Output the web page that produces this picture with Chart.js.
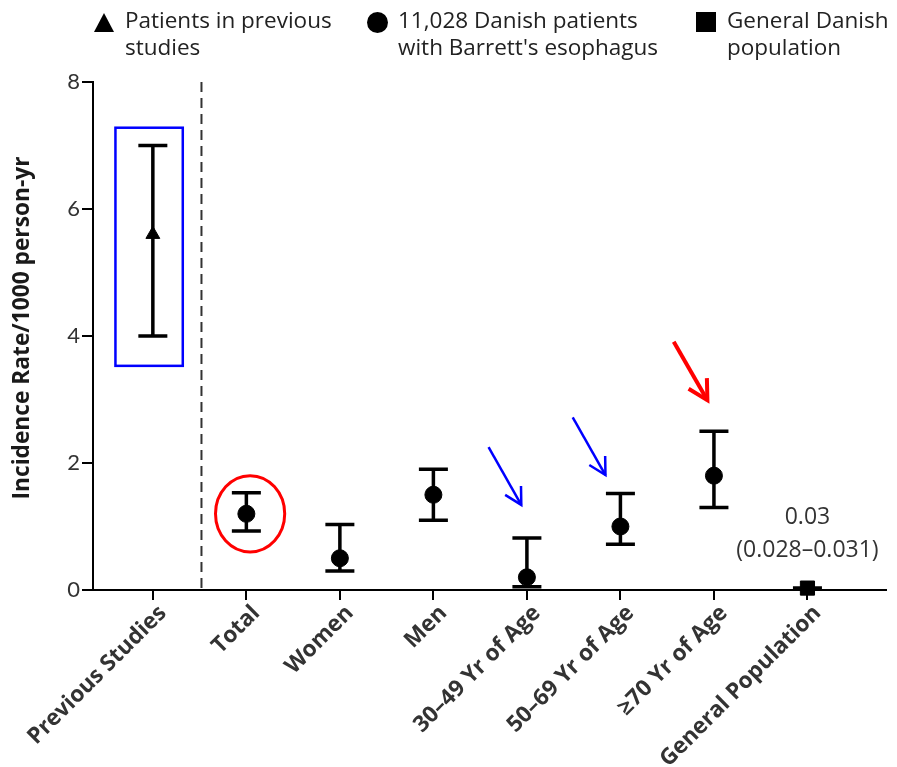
<!DOCTYPE html>
<html><head><meta charset="utf-8">
<script src="https://cdn.jsdelivr.net/npm/chart.js@4.4.0/dist/chart.umd.min.js"></script>
<style>
html,body{margin:0;padding:0;background:#fff;}
#wrap{position:relative;width:897px;height:767px;overflow:hidden;}
#c{position:absolute;left:0;top:0;}
.leg{position:absolute;top:6px;font-family:'Open Sans',sans-serif;font-size:22.5px;line-height:27px;color:#222;white-space:nowrap;}
.tri{position:absolute;left:94px;top:13px;width:0;height:0;border-left:10.5px solid transparent;border-right:10.5px solid transparent;border-bottom:19px solid #000;}
.dot{position:absolute;left:367px;top:12px;width:21px;height:21px;border-radius:50%;background:#000;}
.sq{position:absolute;left:696px;top:12px;width:20px;height:20px;background:#000;}
</style></head><body>
<div id="wrap">
<canvas id="c" width="897" height="767"></canvas>
<div class="tri"></div><div class="leg" style="left:125px">Patients in previous<br>studies</div>
<div class="dot"></div><div class="leg" style="left:398px">11,028 Danish patients<br>with Barrett's esophagus</div>
<div class="sq"></div><div class="leg" style="left:727px">General Danish<br>population</div>
</div>
<script>
// ---- data ----
const categories = ['Previous Studies','Total','Women','Men','30\u201349 Yr of Age','50\u201369 Yr of Age','\u226570 Yr of Age','General Population'];
const rates   = [5.6, 1.2, 0.5, 1.5, 0.2, 1.0, 1.8, 0.03];
const lowerCI = [4.0, 0.93, 0.3, 1.1, 0.05, 0.72, 1.3, 0.028];
const upperCI = [7.0, 1.53, 1.03, 1.9, 0.82, 1.52, 2.5, 0.031];
const yTicks  = [0, 2, 4, 6, 8];
const previousIdx = [0];
const danishIdx   = [1, 2, 3, 4, 5, 6];
const generalIdx  = [7];
const generalLabel = ['0.03', '(0.028\u20130.031)'];
const yTitle = 'Incidence Rate/1000 person-yr';

const pts = idx => idx.map(i => ({x: i, y: rates[i]}));
const FONT = "'Open Sans', sans-serif";

const errorBars = {
  id: 'errorBars',
  beforeDatasetsDraw(chart) {
    const {ctx, scales: {x, y}} = chart;
    ctx.save();
    ctx.strokeStyle = '#000';
    ctx.lineWidth = 3.5;
    ctx.lineCap = 'butt';
    categories.forEach((c, i) => {
      const px = x.getPixelForValue(i);
      const pl = y.getPixelForValue(lowerCI[i]);
      const pu = y.getPixelForValue(upperCI[i]);
      ctx.beginPath();
      ctx.moveTo(px, pl); ctx.lineTo(px, pu);
      ctx.moveTo(px - 14.5, pl); ctx.lineTo(px + 14.5, pl);
      ctx.moveTo(px - 14.5, pu); ctx.lineTo(px + 14.5, pu);
      ctx.stroke();
    });
    // dashed separator between previous studies and this study
    const dx = x.getPixelForValue(0.52);
    ctx.strokeStyle = '#333';
    ctx.lineWidth = 2;
    ctx.setLineDash([10, 6]);
    ctx.beginPath();
    ctx.moveTo(dx, chart.chartArea.top);
    ctx.lineTo(dx, chart.chartArea.bottom);
    ctx.stroke();
    ctx.restore();
  }
};

function arrow(ctx, x0, y0, x1, y1, color, w, head) {
  ctx.save();
  ctx.strokeStyle = color; ctx.lineWidth = w; ctx.lineCap = 'butt';
  ctx.beginPath(); ctx.moveTo(x0, y0); ctx.lineTo(x1, y1); ctx.stroke();
  const a = Math.atan2(y1 - y0, x1 - x0);
  ctx.beginPath();
  ctx.moveTo(x1 - head * Math.cos(a - 0.5), y1 - head * Math.sin(a - 0.5));
  ctx.lineTo(x1, y1);
  ctx.lineTo(x1 - head * Math.cos(a + 0.5), y1 - head * Math.sin(a + 0.5));
  ctx.stroke();
  ctx.restore();
}

const annotations = {
  id: 'annotations',
  afterDraw(chart) {
    const {ctx, scales: {x, y}} = chart;
    ctx.save();
    // y-axis title, sized to span the same length as the original
    ctx.save();
    ctx.font = 'bold 20px ' + FONT;
    const size = Math.min(24, 20 * 343 / ctx.measureText(yTitle).width);
    ctx.font = 'bold ' + size.toFixed(2) + 'px ' + FONT;
    ctx.translate(23, (chart.chartArea.top + chart.chartArea.bottom) / 2 - 8);
    ctx.rotate(-Math.PI / 2);
    ctx.fillStyle = '#1a1a1a';
    ctx.textAlign = 'center'; ctx.textBaseline = 'middle';
    ctx.fillText(yTitle, 0, 0);
    ctx.restore();
    // blue box around previous studies
    ctx.strokeStyle = '#0000ff'; ctx.lineWidth = 2.5;
    const bx0 = x.getPixelForValue(-0.40), bx1 = x.getPixelForValue(0.32);
    const by0 = y.getPixelForValue(7.28), by1 = y.getPixelForValue(3.53);
    ctx.strokeRect(bx0, by0, bx1 - bx0, by1 - by0);
    // red ellipse around total
    ctx.strokeStyle = '#ff0000'; ctx.lineWidth = 3;
    const ex = x.getPixelForValue(1.04), ey = y.getPixelForValue(1.2);
    const rx = x.getPixelForValue(1.41) - ex, ry = ey - y.getPixelForValue(1.8);
    ctx.beginPath(); ctx.ellipse(ex, ey, rx, ry, 0, 0, Math.PI * 2); ctx.stroke();
    // arrows
    arrow(ctx, x.getPixelForValue(3.59), y.getPixelForValue(2.25), x.getPixelForValue(3.94), y.getPixelForValue(1.34), '#0000ff', 2.5, 19);
    arrow(ctx, x.getPixelForValue(4.49), y.getPixelForValue(2.72), x.getPixelForValue(4.84), y.getPixelForValue(1.81), '#0000ff', 2.5, 19);
    arrow(ctx, x.getPixelForValue(5.57), y.getPixelForValue(3.91), x.getPixelForValue(5.93), y.getPixelForValue(2.99), '#ff0000', 4, 22);
    // general population value label
    ctx.fillStyle = '#333';
    ctx.font = '23px ' + FONT;
    ctx.textAlign = 'center'; ctx.textBaseline = 'middle';
    ctx.fillText(generalLabel[0], x.getPixelForValue(7), y.getPixelForValue(1.15));
    ctx.fillText(generalLabel[1], x.getPixelForValue(7), y.getPixelForValue(0.63));
    ctx.restore();
  }
};

new Chart(document.getElementById('c'), {
  type: 'scatter',
  data: {
    datasets: [
      {data: pts(previousIdx), pointStyle: 'triangle', pointRadius: 8, backgroundColor: '#000', borderColor: '#000', clip: false},
      {data: pts(danishIdx), pointStyle: 'circle', pointRadius: 8.5, backgroundColor: '#000', borderColor: '#000', clip: false},
      {data: pts(generalIdx), pointStyle: 'rect', pointRadius: 10, backgroundColor: '#000', borderColor: '#000', clip: false}
    ]
  },
  options: {
    responsive: false,
    animation: false,
    events: [],
    layout: {padding: {top: 82, right: 7, bottom: 0, left: 0}},
    plugins: {legend: {display: false}, tooltip: {enabled: false}},
    scales: {
      x: {
        type: 'linear', min: -0.64, max: 7.84,
        afterBuildTicks: s => { s.ticks = categories.map((_, i) => ({value: i})); },
        afterFit: s => { s.height = 177; },
        grid: {drawOnChartArea: false, drawTicks: true, tickLength: 10, color: '#000', lineWidth: 2},
        border: {display: true, color: '#000', width: 2},
        ticks: {
          callback: v => categories[v],
          autoSkip: false, minRotation: 45, maxRotation: 45, labelOffset: 10,
          font: {family: FONT, size: 22.5, weight: 'bold'}, color: '#333', padding: 0
        }
      },
      y: {
        min: 0, max: 8,
        afterBuildTicks: s => { s.ticks = yTicks.map(v => ({value: v})); },
        afterFit: s => { s.width = 93; },
        grid: {drawOnChartArea: false, drawTicks: true, tickLength: 11, color: '#000', lineWidth: 2},
        border: {display: true, color: '#000', width: 2},
        ticks: {font: {family: 'Lato, sans-serif', size: 22}, color: '#333', padding: 2},
        title: {display: false}
      }
    }
  },
  plugins: [errorBars, annotations]
});
</script>
</body></html>
